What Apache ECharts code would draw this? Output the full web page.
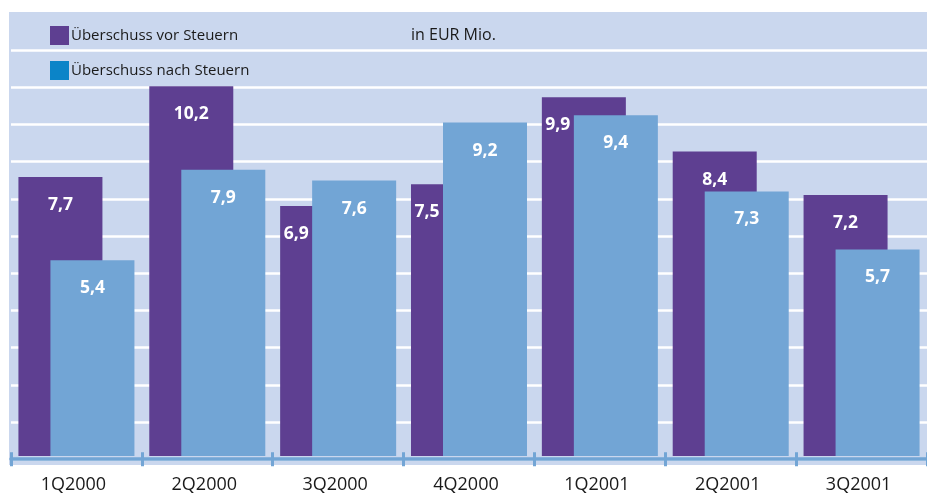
<!DOCTYPE html>
<html>
<head>
<meta charset="utf-8">
<script src="https://cdn.jsdelivr.net/npm/echarts@6/dist/echarts.min.js"></script>
<style>
  html, body { margin: 0; padding: 0; background: #ffffff; }
  #chart { width: 927px; height: 496px; }
</style>
</head>
<body>
<div id="chart"></div>
<script>
// Quarterly surplus, EUR million
const quarters = ['1Q2000', '2Q2000', '3Q2000', '4Q2000', '1Q2001', '2Q2001', '3Q2001'];
const vorSteuern = [7.7, 10.2, 6.9, 7.5, 9.9, 8.4, 7.2];
const nachSteuern = [5.4, 7.9, 7.6, 9.2, 9.4, 7.3, 5.7];
const seriesNames = ['Überschuss vor Steuern', 'Überschuss nach Steuern'];
const unitText = 'in EUR Mio.';

const PURPLE = '#5e3f91';
const BLUE = '#72a5d5';
const LEGEND_BLUE = '#0b84c8';
const BG = '#cad7ee';
const FONT = '"Open Sans", "Noto Sans", sans-serif';

const fmt = v => v.toFixed(1).replace('.', ',');

// The pre-tax label moves into the visible purple strip when the
// after-tax bar would cover it.
const vorData = vorSteuern.map((v, i) => {
  const hidden = v - nachSteuern[i] < 1;
  return hidden ? { value: v, label: { offset: [-26, 0] } } : { value: v };
});

const labelStyle = {
  show: true,
  position: 'insideTop',
  distance: 19,
  color: '#ffffff',
  fontFamily: FONT,
  fontWeight: 'bold',
  fontSize: 17.5,
  formatter: p => fmt(p.value)
};

const chart = echarts.init(document.getElementById('chart'), null, { renderer: 'canvas' });

chart.setOption({
  animation: false,
  backgroundColor: '#ffffff',
  graphic: [
    {
      type: 'rect',
      z: -10,
      silent: true,
      shape: { x: 9, y: 12, width: 918, height: 453 },
      style: { fill: BG }
    },
    {
      type: 'text',
      z: 10,
      left: 411,
      top: 27,
      style: { text: unitText, fill: '#1a1a1a', font: '16px ' + FONT }
    }
  ],
  legend: {
    orient: 'vertical',
    left: 45,
    top: 21,
    itemWidth: 19,
    itemHeight: 19,
    itemGap: 16,
    icon: 'rect',
    selectedMode: false,
    textStyle: { fontFamily: FONT, fontSize: 15, color: '#1a1a1a', padding: [0, 0, 0, -3] },
    data: [
      { name: seriesNames[0], itemStyle: { color: PURPLE } },
      { name: seriesNames[1], itemStyle: { color: LEGEND_BLUE } }
    ]
  },
  grid: [
    { left: 11, width: 922, top: 12, height: 444 },
    { left: 11, width: 922, top: 12.8, height: 446.4 }
  ],
  xAxis: [
    { type: 'category', gridIndex: 0, data: quarters, show: false },
    {
      type: 'category', gridIndex: 1, data: quarters, position: 'bottom',
      axisLine: { show: true, lineStyle: { color: BLUE, width: 3.5 } },
      axisTick: { show: true, length: 7, lineStyle: { color: BLUE, width: 3 } },
      axisLabel: {
        margin: 17, fontFamily: FONT, fontSize: 18, color: '#1a1a1a',
        padding: [0, 6, 0, 0]
      },
      splitLine: { show: false }
    },
    {
      type: 'category', gridIndex: 1, data: quarters, position: 'bottom',
      axisLine: { show: false },
      axisTick: { show: true, inside: true, length: 7, lineStyle: { color: BLUE, width: 3 } },
      axisLabel: { show: false },
      splitLine: { show: false }
    }
  ],
  yAxis: [
    { type: 'value', gridIndex: 0, min: 0, max: 12.25, show: false },
    {
      type: 'value', gridIndex: 1, min: 0, max: 12, interval: 1,
      axisLine: { show: false },
      axisTick: { show: false },
      axisLabel: { show: false },
      splitLine: { show: true, showMaxLine: false, lineStyle: { color: '#ffffff', width: 2.5 } }
    }
  ],
  series: [
    {
      name: seriesNames[0],
      type: 'bar',
      xAxisIndex: 0,
      yAxisIndex: 0,
      barWidth: 84,
      barGap: '-61.9%',
      itemStyle: { color: PURPLE },
      label: labelStyle,
      data: vorData
    },
    {
      name: seriesNames[1],
      type: 'bar',
      xAxisIndex: 0,
      yAxisIndex: 0,
      barWidth: 84,
      barGap: '-61.9%',
      itemStyle: { color: BLUE },
      label: labelStyle,
      data: nachSteuern
    }
  ]
});
</script>
</body>
</html>
